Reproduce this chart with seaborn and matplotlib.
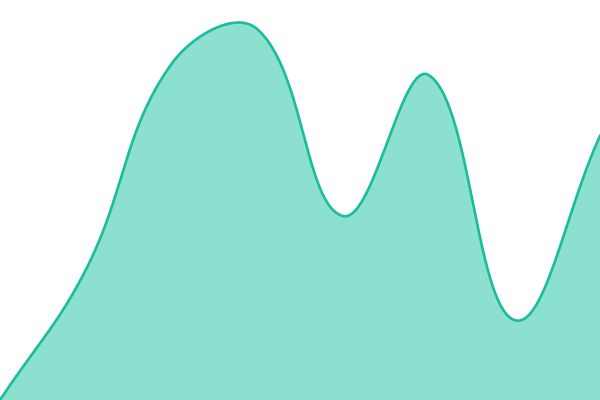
import numpy as np
import pandas as pd
import seaborn as sns
import matplotlib
matplotlib.use("Agg")
import matplotlib.pyplot as plt

# data points
x_pos = [0, 1, 2, 3, 4, 5, 6, 7]
values = [0, 130, 336, 371, 184, 325, 80, 264]

line_color = "#1abc9c"
fill_color = "#8be0cf"

# pixel-space positions for the smoothing (chart area 600 x 400)
px = np.array(x_pos, dtype=float) * 600 / 7
py = np.array(values, dtype=float)

# tension spline (bezier control points like a chart.js line, tension 0.4)
t = 0.4
n = len(px)
cp_prev = np.zeros((n, 2))
cp_next = np.zeros((n, 2))
for i in range(n):
    cur = np.array([px[i], py[i]])
    prev = np.array([px[max(i - 1, 0)], py[max(i - 1, 0)]])
    nxt = np.array([px[min(i + 1, n - 1)], py[min(i + 1, n - 1)]])
    d01 = np.hypot(*(cur - prev))
    d12 = np.hypot(*(nxt - cur))
    tot = d01 + d12
    s01 = d01 / tot if tot else 0
    s12 = d12 / tot if tot else 0
    cp_prev[i] = cur - t * s01 * (nxt - prev)
    cp_next[i] = cur + t * s12 * (nxt - prev)

xs, ys = [], []
u = np.linspace(0, 1, 60)
for i in range(n - 1):
    p0 = np.array([px[i], py[i]])
    p3 = np.array([px[i + 1], py[i + 1]])
    p1 = cp_next[i]
    p2 = cp_prev[i + 1]
    b = ((1 - u) ** 3)[:, None] * p0 + (3 * (1 - u) ** 2 * u)[:, None] * p1 \
        + (3 * (1 - u) * u ** 2)[:, None] * p2 + (u ** 3)[:, None] * p3
    xs.extend(b[:, 0])
    ys.extend(b[:, 1])

curve = pd.DataFrame({"x": xs, "y": ys})

fig = plt.figure(figsize=(6, 4), dpi=100)
ax = fig.add_axes([0, 0, 1, 1])
ax.fill_between(curve["x"], curve["y"], 0, color=fill_color, linewidth=0)
sns.lineplot(data=curve, x="x", y="y", sort=False, color=line_color, linewidth=1.9, ax=ax)
ax.set_xlim(0, 600)
ax.set_ylim(0, 400)
ax.axis("off")
fig.savefig("out.png", dpi=100)
